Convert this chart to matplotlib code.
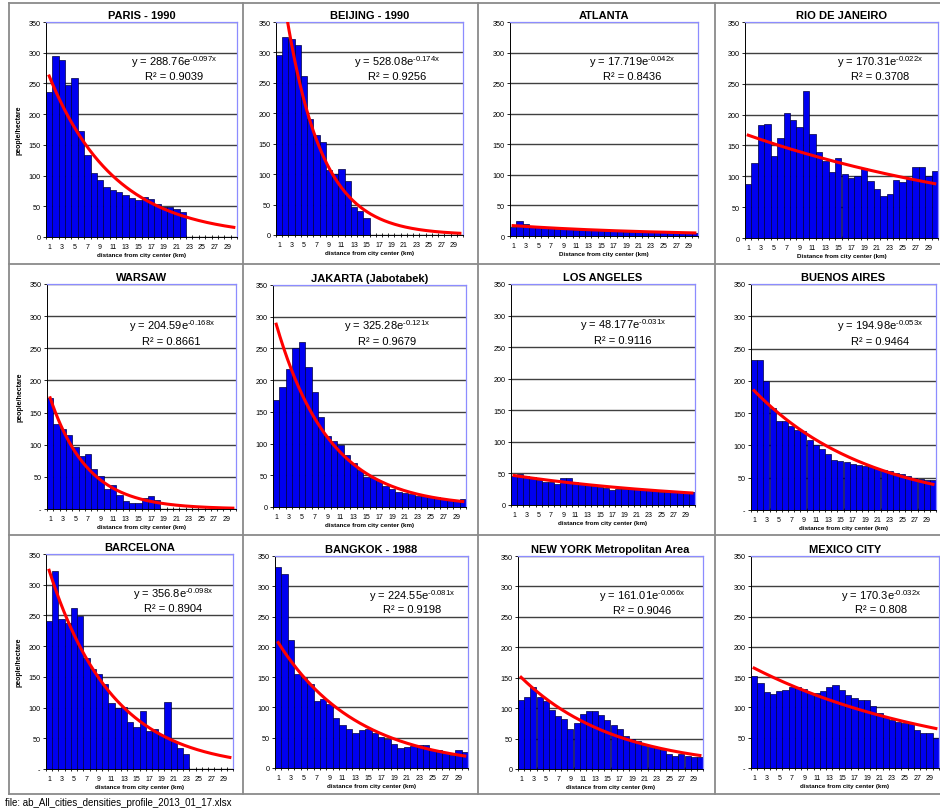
import numpy as np
import matplotlib.pyplot as plt
from matplotlib.lines import Line2D

plt.rcParams['font.family'] = ['Liberation Sans', 'DejaVu Sans']
plt.rcParams['mathtext.fontset'] = 'custom'
plt.rcParams['mathtext.rm'] = 'Liberation Sans'
plt.rcParams['mathtext.it'] = 'Liberation Sans:italic'
plt.rcParams['mathtext.bf'] = 'Liberation Sans:bold'

# density (people/hectare) per 1 km ring, from the city center outwards
cities = ['PARIS - 1990', 'BEIJING - 1990', 'ATLANTA', 'RIO DE JANEIRO',
          'WARSAW', 'JAKARTA (Jabotabek)', 'LOS ANGELES', 'BUENOS AIRES',
          'BARCELONA', 'BANGKOK - 1988', 'NEW YORK Metropolitan Area', 'MEXICO CITY']

paris = [236, 295, 288, 248, 259, 172, 134, 104, 93, 81, 76, 73, 68, 63, 60,
         65, 62, 53, 49, 49, 46, 40]
beijing = [296, 326, 322, 313, 262, 190, 165, 153, 106, 100, 109, 88, 46, 39, 28]
atlanta = [14, 25, 20, 17, 15, 14, 13, 12, 11, 11, 10, 10, 9, 9, 9, 8, 8, 8, 7, 7,
           7, 6, 6, 6, 6, 5, 5, 5, 5, 5]
rio = [88, 122, 183, 184, 133, 162, 203, 192, 180, 238, 168, 139, 124, 107, 130,
       103, 97, 100, 114, 92, 79, 68, 71, 94, 91, 96, 115, 115, 101, 108]
warsaw = [172, 132, 124, 115, 96, 82, 85, 62, 51, 31, 38, 22, 12, 9, 10, 17, 21, 14]
jakarta = [168, 189, 217, 250, 260, 220, 182, 142, 112, 104, 97, 82, 70, 59, 48,
           46, 41, 33, 28, 23, 22, 20, 18, 17, 15, 15, 13, 12, 11, 12]
los_angeles = [46, 49, 46, 45, 40, 37, 37, 34, 42, 42, 37, 33, 31, 30, 28, 27, 24,
               25, 25, 25, 25, 24, 24, 22, 21, 21, 20, 20, 19, 20]
buenos_aires = [233, 232, 200, 158, 138, 138, 130, 124, 122, 108, 100, 94, 86, 78,
                76, 74, 72, 70, 68, 66, 64, 62, 60, 58, 55, 53, 50, 48, 47, 46]
barcelona = [241, 323, 244, 238, 262, 249, 180, 163, 155, 138, 107, 100, 101, 77,
             68, 94, 62, 65, 55, 109, 46, 35, 24]
bangkok = [332, 320, 212, 155, 148, 138, 110, 114, 105, 83, 71, 64, 57, 62, 64, 57,
           52, 48, 40, 33, 34, 36, 38, 38, 29, 29, 25, 22, 30, 26]
new_york = [114, 118, 134, 118, 112, 97, 87, 82, 65, 76, 90, 95, 96, 88, 80, 73, 66,
            55, 50, 46, 40, 37, 34, 31, 24, 22, 24, 22, 20, 20]
mexico = [152, 140, 125, 122, 127, 129, 133, 133, 130, 124, 124, 127, 133, 137, 128,
          120, 115, 113, 112, 103, 90, 85, 80, 76, 75, 72, 62, 57, 57, 50]

densities = [paris, beijing, atlanta, rio, warsaw, jakarta, los_angeles,
             buenos_aires, barcelona, bangkok, new_york, mexico]

# exponential trend lines y = a * exp(b * x)
fit_a = [288.76, 528.08, 17.719, 170.31, 204.59, 325.28, 48.177, 194.98,
         356.8, 224.55, 161.01, 170.3]
fit_b = [-0.097, -0.174, -0.042, -0.022, -0.168, -0.121, -0.031, -0.053,
         -0.098, -0.081, -0.066, -0.032]
fit_r2 = [0.9039, 0.9256, 0.8436, 0.3708, 0.8661, 0.9679, 0.9116, 0.9464,
          0.8904, 0.9198, 0.9046, 0.808]

n_rings = 30
y_ticks = [0, 50, 100, 150, 200, 250, 300, 350]

W, H = 940, 812
# plot areas in pixels: left, top, right, bottom
boxes = [(46, 23, 237, 238), (276, 23, 463, 236), (510, 23, 698, 237), (745, 23, 938, 239),
         (47, 285, 236, 510), (273, 286, 466, 508), (511, 285, 695, 506), (751, 285, 936, 511),
         (46, 555, 233, 770), (275, 557, 468, 769), (518, 557, 703, 770), (751, 557, 939, 769)]
eq_x = [0.67, 0.65, 0.65, 0.70, 0.66, 0.59, 0.61, 0.70, 0.68, 0.71, 0.67, 0.69]
dash_zero = [False, False, False, False, True, False, False, True, True, False, False, True]
cap_xlabel = [False, False, True, True, False, False, False, False, False, False, False, False]

fig = plt.figure(figsize=(W / 100, H / 100), dpi=100)

for i, vals in enumerate(densities):
    l, t, r, b = boxes[i]
    ax = fig.add_axes([l / W, 1 - b / H, (r - l) / W, (b - t) / H])

    x = np.arange(1, len(vals) + 1)
    ax.bar(x, vals, width=1.0, color='#0000F0', edgecolor='#000040', linewidth=0.5, zorder=2)

    xs = np.linspace(1, n_rings, 200)
    ax.plot(xs, fit_a[i] * np.exp(fit_b[i] * xs), color='#FF0000', lw=2.2, zorder=3)

    ax.set_xlim(0.5, n_rings + 0.5)
    ax.set_ylim(0, 350)
    ax.set_yticks(y_ticks)
    labels = [str(v) for v in y_ticks]
    if dash_zero[i]:
        labels[0] = '-'
    ax.set_yticklabels(labels)
    ax.set_xticks(np.arange(1, n_rings + 1, 2))
    ax.set_xticks(np.arange(0.5, n_rings + 1, 1), minor=True)
    ax.tick_params(axis='x', which='major', length=0, labelsize=5, pad=4)
    ax.tick_params(axis='x', which='minor', length=3, direction='inout', width=0.6)
    ax.tick_params(axis='y', length=2, width=0.6, labelsize=5.2, pad=2)

    ax.yaxis.grid(True, color='#404040', lw=1.0, zorder=1)
    ax.set_axisbelow(True)
    for side in ['top', 'right']:
        ax.spines[side].set_color('#8c8cff')
        ax.spines[side].set_linewidth(0.9)
    for side in ['left', 'bottom']:
        ax.spines[side].set_color('#000000')
        ax.spines[side].set_linewidth(0.7)

    ax.set_title(cities[i], fontsize=8, fontweight='bold', pad=3)
    xlabel = 'distance from city center (km)'
    if cap_xlabel[i]:
        xlabel = 'Distance from city center (km)'
    ax.set_xlabel(xlabel, fontsize=4.5, fontweight='bold', labelpad=2)
    if i % 4 == 0:
        ax.set_ylabel('people/hectare', fontsize=5, fontweight='bold', labelpad=4)

    # Excel-style trend label, exponent keeps a plain hyphen
    eq = 'y = {:g}e$^{{\\text{{{:g}x}}}}$'.format(fit_a[i], fit_b[i])
    ax.text(eq_x[i], 286, eq, transform=ax.get_yaxis_transform(), ha='center',
            va='center', fontsize=8, zorder=4)
    ax.text(eq_x[i], 262, 'R\u00b2 = {:g}'.format(fit_r2[i]), transform=ax.get_yaxis_transform(),
            ha='center', va='center', fontsize=8, zorder=4)

# cell borders
def frame_line(x0, y0, x1, y1):
    fig.add_artist(Line2D([x0 / W, x1 / W], [1 - y0 / H, 1 - y1 / H],
                          color='#8a8a8a', lw=1.3, transform=fig.transFigure))

for y in [4, 265, 536, 795]:
    frame_line(9, y, W, y)
for xv in [9, 243, 478, 715]:
    frame_line(xv, 4, xv, 795)

fig.text(5 / W, 1 - 803 / H, 'file: ab_All_cities_densities_profile_2013_01_17.xlsx',
         fontsize=7, va='center', ha='left')

fig.savefig('out.png', dpi=100)
